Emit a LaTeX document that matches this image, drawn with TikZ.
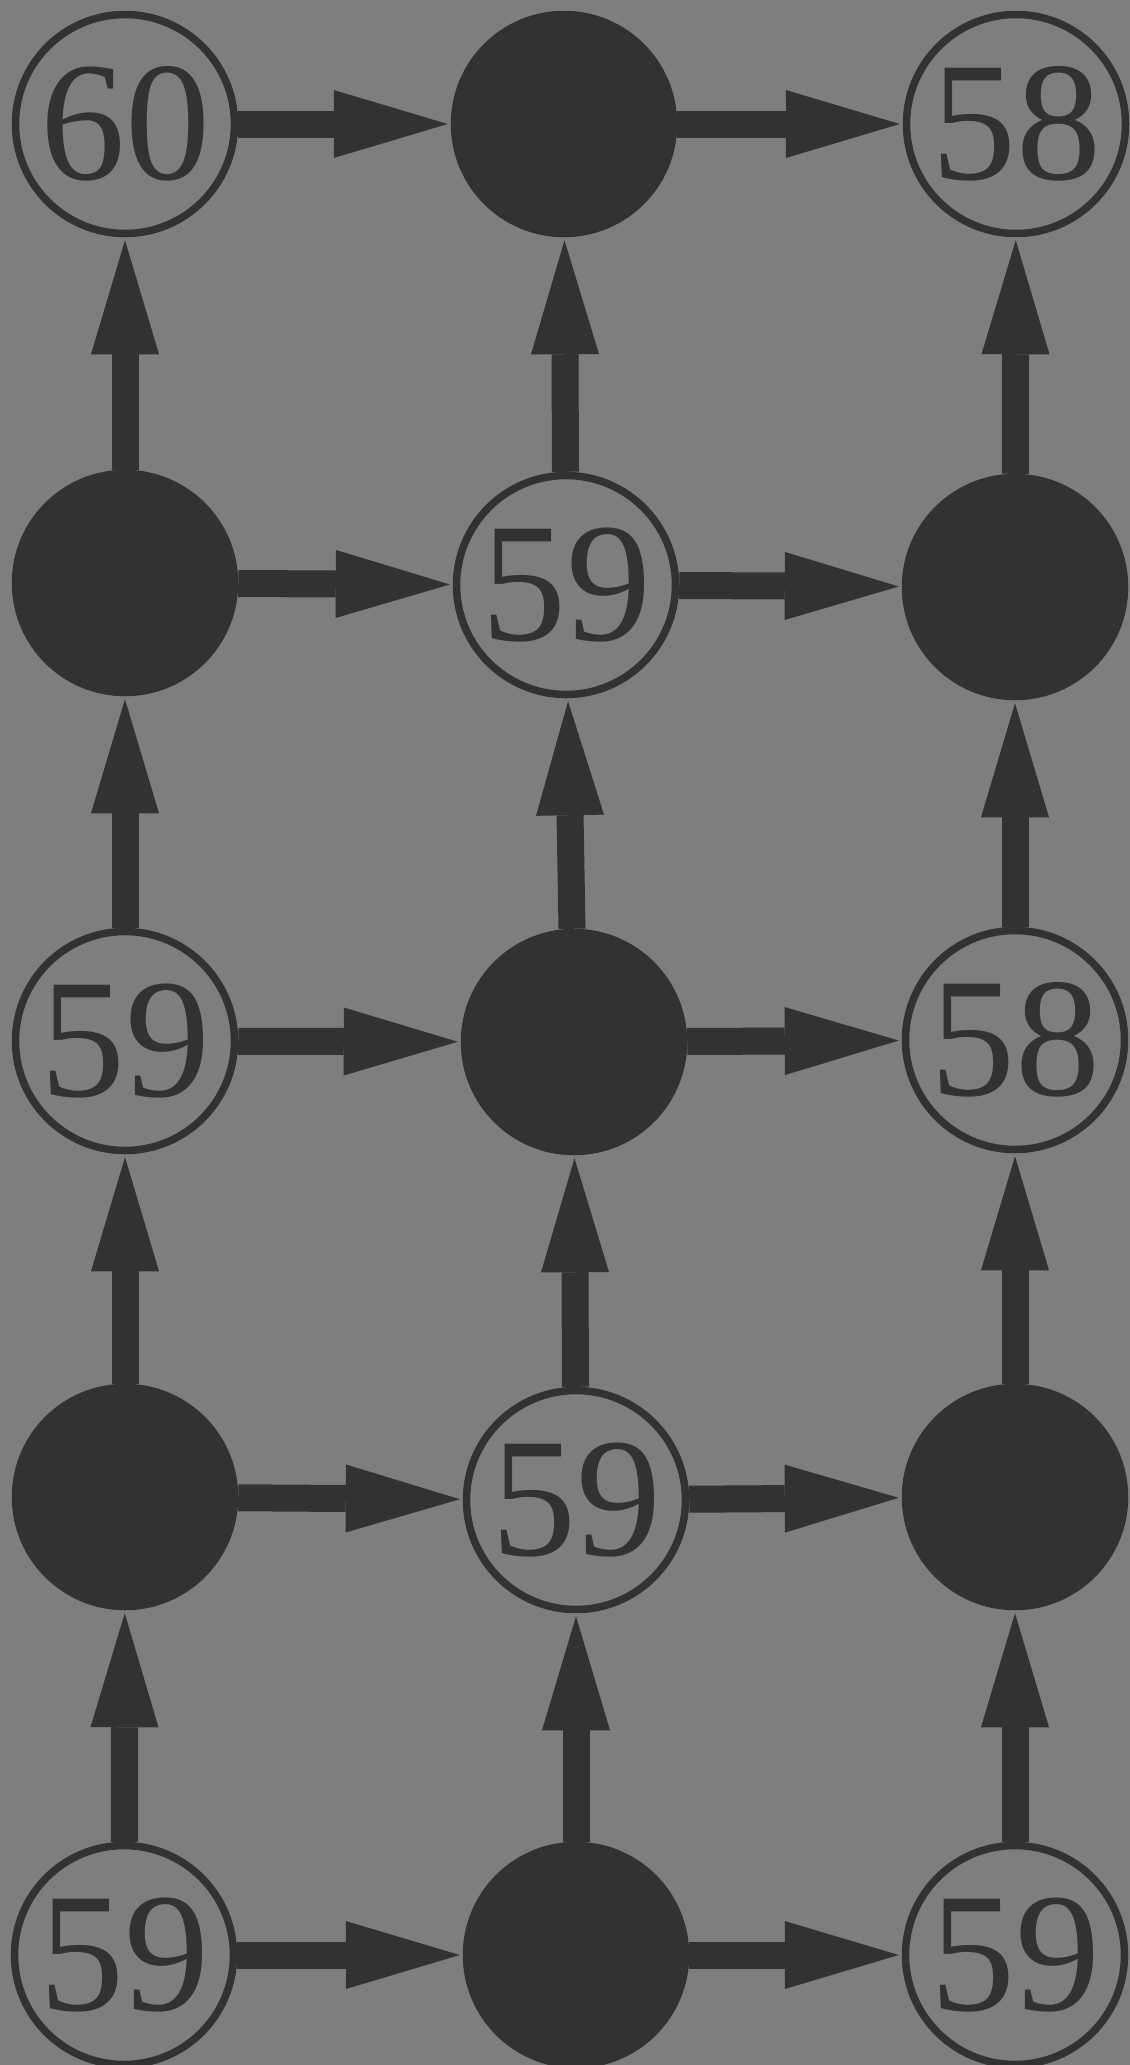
\documentclass[tikz,border=0pt]{standalone}
\usepackage{fontspec}
\setmainfont{Liberation Serif}
\usetikzlibrary{arrows.meta}
\definecolor{bgc}{RGB}{126,126,126}
\definecolor{ink}{RGB}{50,50,50}
\tikzset{
  opennode/.style={circle, draw=ink, line width=7.5pt, minimum size=219pt, inner sep=0pt,
    text=ink, font=\fontsize{170}{170}\selectfont},
  fullnode/.style={circle, draw=ink, fill=ink, line width=7.5pt, minimum size=219pt, inner sep=0pt},
  conn/.style={draw=ink, line width=27pt, shorten >=3pt,
    -{Triangle[length=114pt,width=68pt,line width=0pt]}}
}
\begin{document}
\begin{tikzpicture}[x=1pt,y=-1pt]
\fill[bgc] (0,0) rectangle (1130,2065);
\useasboundingbox (0,0) rectangle (1130,2065);
\clip (0,0) rectangle (1130,2065);
% row 1
\node[opennode] (n11) at (125,124) {60};
\node[fullnode] (n12) at (564,124) {};
\node[opennode] (n13) at (1016,124) {58};
% row 2
\node[fullnode] (n21) at (125,583) {};
\node[opennode] (n22) at (566,585) {59};
\node[fullnode] (n23) at (1015,587) {};
% row 3
\node[opennode] (n31) at (125,1041) {59};
\node[fullnode] (n32) at (574,1042) {};
\node[opennode] (n33) at (1015,1040) {58};
% row 4
\node[fullnode] (n41) at (125,1497) {};
\node[opennode] (n42) at (576,1500) {59};
\node[fullnode] (n43) at (1015,1497) {};
% row 5
\node[opennode] (n51) at (124,1955) {59};
\node[fullnode] (n52) at (576,1955) {};
\node[opennode] (n53) at (1015,1955) {59};
% horizontal connectors
\foreach \r in {1,...,5}{
  \draw[conn] (n\r1) -- (n\r2);
  \draw[conn] (n\r2) -- (n\r3);
}
% vertical connectors (upward)
\foreach \c in {1,2,3}{
  \draw[conn] (n2\c) -- (n1\c);
  \draw[conn] (n3\c) -- (n2\c);
  \draw[conn] (n4\c) -- (n3\c);
  \draw[conn] (n5\c) -- (n4\c);
}
\end{tikzpicture}
\end{document}
